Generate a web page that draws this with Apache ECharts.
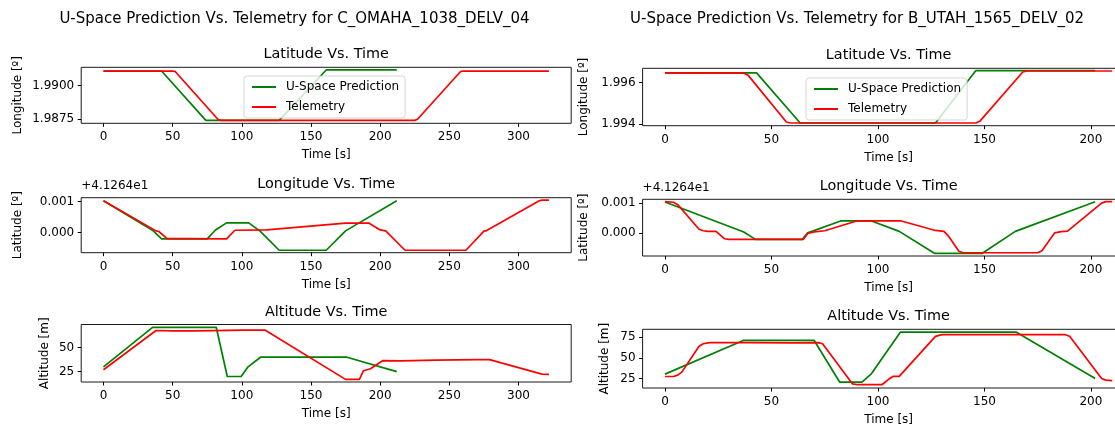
<!DOCTYPE html>
<html>
<head>
<meta charset="utf-8">
<script src="https://cdn.jsdelivr.net/npm/echarts@6/dist/echarts.min.js"></script>
<style>
html,body{margin:0;padding:0;background:#fff;overflow:hidden;width:1115px;height:427px;}
#chart{width:1140px;height:427px;}
</style>
</head>
<body>
<div id="chart"></div>
<script>
// ---------------- DATA ----------------
const seriesNames = ['U-Space Prediction', 'Telemetry'];
const suptitles = ['U-Space Prediction Vs. Telemetry for C_OMAHA_1038_DELV_04',
                   'U-Space Prediction Vs. Telemetry for B_UTAH_1565_DELV_02'];
const rowTitles = ['Latitude Vs. Time', 'Longitude Vs. Time', 'Altitude Vs. Time'];
const rowYLabels = ['Longitude [º]', 'Latitude [º]', 'Altitude [m]'];
const xLabel = 'Time [s]';
const lonOffsetText = '+4.1264e1';

// Left flight: C_OMAHA_1038_DELV_04  ([time s, value])
const omahaLatPred = [[0,1.9911],[42,1.9911],[74,1.9874],[127,1.9874],[161,1.99118],[212,1.99118]];
const omahaLatTele = [[0,1.9911],[50,1.9911],[52,1.99105],[83,1.98745],[85,1.9874],[225,1.9874],[227,1.98748],[258,1.99105],[260,1.9911],[322,1.9911]];
// longitude values are offsets from 41.264
const omahaLonPred = [[0,0.00103],[36,0.00005],[42,-0.00021],[75,-0.00021],[81,0.00008],[89,0.00031],[105,0.00031],[113,0.00005],[127,-0.00058],[161,-0.00058],[175,0.00005],[212,0.00103]];
const omahaLonTele = [[0,0.00103],[38,0.00005],[40,0.00003],[46,-0.0002],[60,-0.0002],[89,-0.00021],[95,0.00007],[118,0.00008],[175,0.0003],[192,0.0003],[200,0.00008],[204,0.00005],[218,-0.00058],[262,-0.00058],[275,0.00004],[277,0.00006],[315,0.00103],[317,0.00105],[322,0.00105]];
const omahaAltPred = [[0,30],[35.5,71],[81.5,71],[89.5,20],[99.5,20],[104.5,30],[113.5,40],[176,40],[212,25]];
const omahaAltTele = [[0,27],[38,67.7],[50,67.3],[65,67.2],[80,67.6],[100,68],[117,68],[175,17],[185,17],[188,26],[189,27.5],[193,28],[202,36.5],[215,36.2],[240,37],[270,37.5],[279,37.5],[317,22.5],[322,22.3]];

// Right flight: B_UTAH_1565_DELV_02
const utahLatPred = [[0,1.99646],[43,1.99646],[63.5,1.99405],[127,1.99405],[146,1.99657],[202,1.99657]];
const utahLatTele = [[0,1.99646],[37,1.99645],[39,1.99635],[57,1.9941],[59,1.99405],[146,1.99405],[148,1.99415],[168,1.9965],[170,1.99655],[210,1.99655]];
const utahLonPred = [[0,0.00104],[37,0.00003],[42.5,-0.00022],[64.5,-0.00022],[67,0.0],[82.5,0.0004],[97,0.0004],[110,0.00005],[126.5,-0.00069],[149,-0.00069],[164.5,0.00005],[202,0.00105]];
const utahLonTele = [[0,0.00105],[4,0.00103],[6,0.00095],[16,0.00012],[18,0.00007],[20,0.00005],[24,0.00005],[28,-0.0002],[30,-0.00022],[65,-0.00022],[67,-0.00002],[70,0.00003],[75,0.00007],[90,0.0004],[111,0.0004],[127,0.00008],[131,0.00005],[133,-0.0001],[138,-0.00062],[140,-0.00067],[175,-0.00067],[177,-0.0006],[183,0.0],[186,0.00004],[189,0.00006],[205,0.001],[207,0.00105],[210,0.00105]];
const utahAltPred = [[0,30.3],[37,71.2],[70,71.2],[82,20.7],[92.5,20.7],[97,31],[110.5,81],[165,81],[202,25]];
const utahAltTele = [[0,27.4],[4,27.4],[6,29],[8,33],[16,64],[18,67],[21,68.4],[40,68.5],[60,68.2],[72,68.4],[74,67],[88,18.5],[90,17.7],[102,17.7],[105,24],[107,27.5],[110,27.5],[127,76],[130,78],[188,78],[190,76],[205,25],[207,23],[210,22.5]];

// tick values
const omahaXTicks = [0,50,100,150,200,250,300];
const utahXTicks = [0,50,100,150,200];
const omahaLatTicks = [1.9875, 1.99];
const utahLatTicks = [1.994, 1.996];
const lonTicks = [0, 0.001];
const omahaAltTicks = [25, 50];
const utahAltTicks = [25, 50, 75];

// ---------------- LAYOUT ----------------
const GREEN = '#008000', RED = '#ff0000';
const FONT = 'DejaVu Sans';
const cols = [
  {left: 81.2, width: 490, xmin: -16.1, xmax: 338.1, xticks: omahaXTicks,
   tops: [67.3,197.7,324.5], heights:[56,55,57.5],
   ylims: [[1.98718,1.99138],[-0.00066,0.00113],[14.3,73.9]],
   yticks: [omahaLatTicks, lonTicks, omahaAltTicks], yfmt: [4,3,0], ygap: [57,57,30],
   data: [[omahaLatPred, omahaLatTele],[omahaLonPred, omahaLonTele],[omahaAltPred, omahaAltTele]],
   titleY: [54,184,312.5], offY: 186, supX: 294.5, legend: {left: 244, top: 76}},
  {left: 642.6, width: 492, xmin: -10.5, xmax: 220.5, xticks: utahXTicks,
   tops: [68.3,199.3,329.3], heights:[57.4,56.7,58.7],
   ylims: [[1.99392,1.99668],[-0.00078,0.00113],[13.5,84.5]],
   yticks: [utahLatTicks, lonTicks, utahAltTicks], yfmt: [3,3,0], ygap: [53,53,32],
   data: [[utahLatPred, utahLatTele],[utahLonPred, utahLonTele],[utahAltPred, utahAltTele]],
   titleY: [55,186.5,316], offY: 188, supX: 857, legend: {left: 806, top: 78}}
];

const grid = [], xAxis = [], yAxis = [], series = [], graphics = [], legends = [];
let gi = 0;
cols.forEach((c, ci) => {
  for (let r = 0; r < 3; r++) {
    grid.push({left: c.left, top: c.tops[r], width: c.width, height: c.heights[r], show: true,
      borderColor: '#1a1a1a', borderWidth: 1, backgroundColor: 'transparent', containLabel: false});
    xAxis.push({type: 'value', gridIndex: gi, min: c.xmin, max: c.xmax,
      name: xLabel, nameLocation: 'middle', nameGap: 26,
      nameTextStyle: {fontFamily: FONT, fontSize: 12, color: '#000'},
      axisLine: {show: false, onZero: false},
      axisTick: {show: true, length: 3.5, customValues: c.xticks, lineStyle: {color: '#000', width: 1}},
      axisLabel: {customValues: c.xticks, fontFamily: FONT, fontSize: 12, color: '#000', margin: 8, formatter: v => String(v)},
      splitLine: {show: false}});
    const dec = c.yfmt[r];
    yAxis.push({type: 'value', gridIndex: gi, min: c.ylims[r][0], max: c.ylims[r][1],
      name: rowYLabels[r], nameLocation: 'middle', nameRotate: 90, nameGap: c.ygap[r],
      nameTextStyle: {fontFamily: FONT, fontSize: 12, color: '#000'},
      axisLine: {show: false, onZero: false},
      axisTick: {show: true, length: 3.5, customValues: c.yticks[r], lineStyle: {color: '#000', width: 1}},
      axisLabel: {customValues: c.yticks[r], fontFamily: FONT, fontSize: 12, color: '#000', margin: 7,
        formatter: v => (Math.abs(v) < 1e-12 ? 0 : v).toFixed(dec)},
      splitLine: {show: false}});
    const pair = c.data[r];
    series.push({type: 'line', name: seriesNames[0], xAxisIndex: gi, yAxisIndex: gi, data: pair[0],
      symbol: 'none', lineStyle: {color: GREEN, width: 1.7}, itemStyle: {color: GREEN}, z: 2});
    series.push({type: 'line', name: seriesNames[1], xAxisIndex: gi, yAxisIndex: gi, data: pair[1],
      symbol: 'none', lineStyle: {color: RED, width: 1.7}, itemStyle: {color: RED}, z: 3});
    graphics.push({type: 'text', x: c.left + c.width / 2, y: c.titleY[r],
      style: {text: rowTitles[r], fontFamily: FONT, fontSize: 14.4, fill: '#000', align: 'center', verticalAlign: 'middle'}});
    if (r === 1) {
      graphics.push({type: 'text', x: c.left, y: c.offY,
        style: {text: lonOffsetText, fontFamily: FONT, fontSize: 12, fill: '#000', align: 'left', verticalAlign: 'middle'}});
    }
    gi++;
  }
  graphics.push({type: 'text', x: c.supX, y: 19,
    style: {text: suptitles[ci], fontFamily: FONT, fontSize: 15, fill: '#000', align: 'center', verticalAlign: 'middle'}});
  legends.push({show: true, orient: 'vertical', left: c.legend.left, top: c.legend.top, data: seriesNames,
    icon: 'rect', itemWidth: 24, itemHeight: 2, itemGap: 6, padding: [4, 6, 4, 8],
    backgroundColor: 'rgba(255,255,255,0.8)', borderColor: 'rgba(204,204,204,0.8)', borderWidth: 1, borderRadius: 3,
    textStyle: {fontFamily: FONT, fontSize: 12, color: '#000', padding: [0, 0, 0, 5], lineHeight: 14}, selectedMode: false});
});

const chart = echarts.init(document.getElementById('chart'), null, {renderer: 'canvas'});
chart.setOption({
  animation: false,
  backgroundColor: '#fff',
  grid, xAxis, yAxis, series, legend: legends,
  graphic: {elements: graphics}
});
</script>
</body>
</html>
